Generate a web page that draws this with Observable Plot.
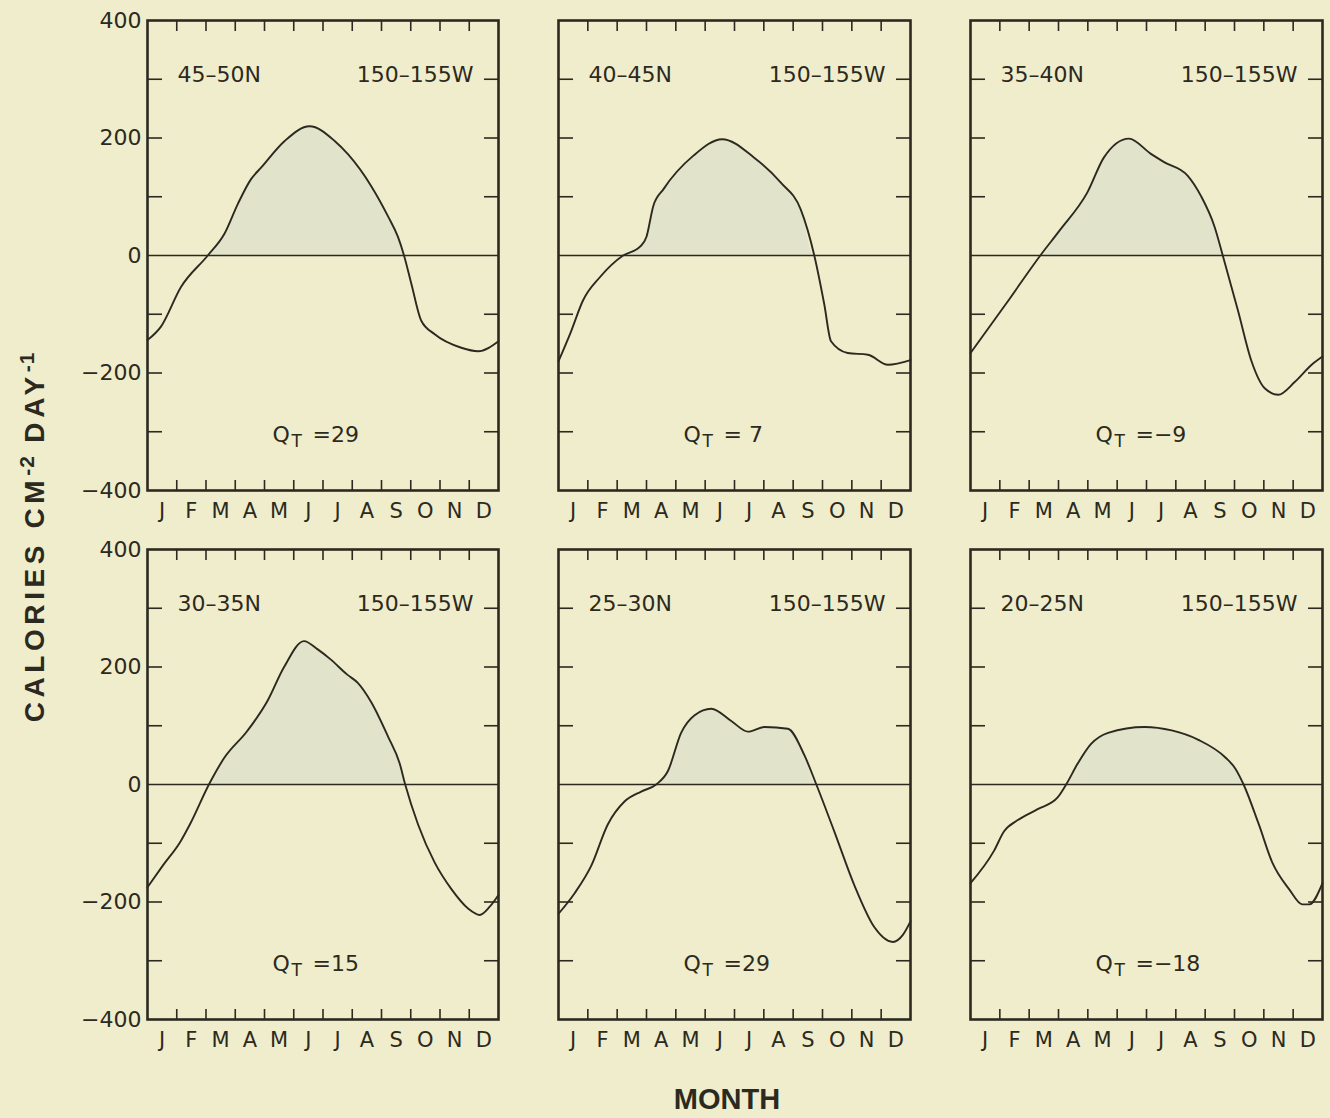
<!DOCTYPE html>
<html><head><meta charset="utf-8">
<script src="https://cdn.jsdelivr.net/npm/d3@7"></script>
<script src="https://cdn.jsdelivr.net/npm/@observablehq/plot@0.6"></script>
<style>
html,body{margin:0;padding:0;background:#f0edcc;}
#wrap{position:relative;width:1330px;height:1118px;background:#f0edcc;overflow:hidden;color:#2c2a20;}
.panel{position:absolute;}
.panel svg{max-width:none;overflow:visible;display:block;}
#ytitle{position:absolute;left:32px;top:537px;transform:translate(-50%,-50%) rotate(-90deg);white-space:nowrap;font-family:"Liberation Sans",sans-serif;font-weight:bold;font-size:28px;letter-spacing:4.6px;line-height:1;}
#ytitle sup{font-size:21px;vertical-align:10px;letter-spacing:1px;}
#xtitle{position:absolute;left:727px;top:1085px;transform:translateX(-50%);white-space:nowrap;font-family:"Liberation Sans",sans-serif;font-weight:bold;font-size:29px;line-height:29px;}
</style></head>
<body><div id="wrap"><div id="ytitle">CALORIES CM<sup>-2</sup> DAY<sup>-1</sup></div><div id="xtitle">MONTH</div></div>
<script>
// ---------- data ----------
const months = ["J","F","M","A","M","J","J","A","S","O","N","D"];
const latLabels = ["45–50N","40–45N","35–40N","30–35N","25–30N","20–25N"];
const lonLabel = "150–155W";
const qtValues = [29, 7, -9, 15, 29, -18];
const yLabelTicks = [-400, -200, 0, 200, 400];
const yMinorTicks = [-300, -200, -100, 100, 200, 300];
const xMonthTicks = [1,2,3,4,5,6,7,8,9,10,11];

// month position (0 = 1 Jan, 12 = 31 Dec) and net heat gain (cal cm^-2 day^-1)
const p1Month = [0, 0.46, 1.14, 2.06, 2.63, 3.09, 3.54, 3.89, 4.69, 5.54, 6.4, 6.86, 7.65, 8.22, 8.56, 8.77, 9.02, 9.36, 9.82, 10.73, 11.3, 12];
const p1Value = [-144, -121, -54, 0, 37, 88, 130, 150, 195, 220, 195, 172, 118, 67, 32, 0, -48, -111, -134, -157, -163, -146];

const p2Month = [0, 0.43, 0.83, 1.41, 2.2, 2.78, 3.0, 3.23, 3.58, 4.6, 5.58, 6.66, 7.58, 8.26, 8.72, 9.06, 9.29, 9.86, 10.55, 11.23, 12];
const p2Value = [-180, -129, -77, -37, 0, 15, 32, 84, 113, 170, 198, 167, 124, 78, 0, -83, -146, -166, -169, -186, -178];

const p3Month = [0, 1.2, 2.38, 3.06, 3.98, 4.55, 5.4, 6.15, 6.6, 7.4, 7.86, 8.32, 8.6, 9.12, 9.58, 10.03, 10.49, 11.06, 11.63, 12];
const p3Value = [-166, -83, 0, 44, 107, 167, 199, 173, 159, 136, 101, 49, 0, -94, -180, -226, -237, -215, -186, -172];

const p4Month = [0, 0.51, 1.14, 1.47, 2.1, 2.62, 3.41, 4.1, 4.66, 5.35, 5.82, 6.26, 6.83, 7.19, 7.65, 8.22, 8.62, 8.81, 9.25, 9.82, 10.39, 10.96, 11.36, 11.7, 12];
const p4Value = [-175, -139, -96, -66, 0, 45, 91, 142, 199, 244, 230, 213, 187, 173, 140, 82, 36, 0, -68, -133, -178, -211, -222, -208, -188];

const p5Month = [0, 0.55, 1.11, 1.68, 2.25, 2.82, 3.33, 3.73, 4.18, 4.64, 5.21, 5.89, 6.46, 7.02, 7.82, 8.39, 8.79, 9.41, 10.09, 10.77, 11.4, 11.74, 12];
const p5Value = [-220, -185, -139, -68, -29, -12, 0, 23, 88, 118, 129, 108, 90, 98, 95, 49, 0, -81, -172, -243, -268, -256, -233];

const p6Month = [0, 0.8, 1.14, 1.6, 2.29, 2.97, 3.26, 3.66, 4.11, 4.69, 5.94, 6.86, 7.77, 8.69, 9.03, 9.31, 9.83, 10.29, 10.86, 11.31, 11.55, 12];
const p6Value = [-168, -113, -80, -61, -42, -22, 0, 36, 69, 88, 98, 92, 76, 46, 27, 0, -68, -133, -178, -204, -204, -168];

// ---------- layout ----------
const ink = "#2c2a20";
const fillColor = "#e2e3cb";
const colLeft = [147, 558, 970];
const colRight = [498, 910, 1322];
const rowTop = [20, 549];
const rowBottom = [490, 1019];
const svgTop = [0, 530];

const series = [
  [p1Month, p1Value], [p2Month, p2Value], [p3Month, p3Value],
  [p4Month, p4Value], [p5Month, p5Value], [p6Month, p6Value]
];

const wrap = document.getElementById("wrap");
const qtFormat = v => v < 0 ? "=−" + Math.abs(v) : (v < 10 ? "= " + v : "=" + v);

series.forEach(([ms, vs], i) => {
  const r = Math.floor(i / 3), c = i % 3;
  const data = ms.map((m, j) => ({m, v: vs[j]}));
  const ml = c === 0 ? 147 : 40;
  const mr = 8;
  const mt = rowTop[r] - svgTop[r];
  const mb = 45;
  const fw = colRight[c] - colLeft[c];
  const fh = rowBottom[r] - rowTop[r];
  const labelDy = 61;
  const qtDy = -49;
  const marks = [
    Plot.areaY(data, {x: "m", y1: 0, y2: d => Math.max(0, d.v), fill: fillColor, curve: "monotone-x"}),
    Plot.ruleY([0], {stroke: ink, strokeWidth: 1.6}),
    Plot.lineY(data, {x: "m", y: "v", stroke: ink, strokeWidth: 1.9, curve: "monotone-x"}),
    // inward ticks
    Plot.axisY(yMinorTicks, {anchor: "left", tickSize: 15, dx: 15, fill: "none", stroke: ink, strokeWidth: 1.6, label: null}),
    Plot.axisY(yMinorTicks, {anchor: "right", tickSize: 15, dx: -15, fill: "none", stroke: ink, strokeWidth: 1.6, label: null}),
    Plot.axisX(xMonthTicks, {anchor: "top", tickSize: 10, dy: 10, fill: "none", stroke: ink, strokeWidth: 1.6, label: null}),
    Plot.axisX(xMonthTicks, {anchor: "bottom", tickSize: 10, dy: -10, fill: "none", stroke: ink, strokeWidth: 1.6, label: null}),
    // month letters
    Plot.axisX(months.map((_, k) => k + 0.5), {anchor: "bottom", tickSize: 0, tickPadding: 13, tickFormat: d => months[Math.floor(d)], fontSize: 21, fill: ink, label: null}),
    // panel labels
    Plot.text([latLabels[i]], {frameAnchor: "top-left", dx: 30, dy: labelDy, textAnchor: "start", lineAnchor: "bottom", fontSize: 22, fill: ink, letterSpacing: 2.8}),
    Plot.text([lonLabel], {frameAnchor: "top-right", dx: -25, dy: labelDy, textAnchor: "end", lineAnchor: "bottom", fontSize: 22, fill: ink, letterSpacing: 0.5}),
    // Q_T labels
    Plot.text(["Q"], {frameAnchor: "bottom-left", dx: 125, dy: qtDy, textAnchor: "start", lineAnchor: "bottom", fontSize: 22, fill: ink}),
    Plot.text(["T"], {frameAnchor: "bottom-left", dx: 144, dy: qtDy + 5, textAnchor: "start", lineAnchor: "bottom", fontSize: 17, fill: ink}),
    Plot.text([qtFormat(qtValues[i])], {frameAnchor: "bottom-left", dx: 165, dy: qtDy, textAnchor: "start", lineAnchor: "bottom", fontSize: 22, fill: ink}),
    Plot.frame({stroke: ink, strokeWidth: 2.6})
  ];
  if (c === 0) {
    marks.push(Plot.axisY(yLabelTicks, {anchor: "left", tickSize: 0, tickPadding: 6, fontSize: 22, fill: ink, label: null}));
  }
  const svg = Plot.plot({
    width: ml + fw + mr,
    height: mt + fh + mb,
    marginLeft: ml, marginRight: mr, marginTop: mt, marginBottom: mb,
    style: {background: "transparent", fontFamily: "DejaVu Sans", fontSize: "21px", color: ink, overflow: "visible"},
    x: {domain: [0, 12], axis: null, label: null},
    y: {domain: [-400, 400], axis: null, label: null},
    marks
  });
  const div = document.createElement("div");
  div.className = "panel";
  div.style.left = (colLeft[c] - ml) + "px";
  div.style.top = svgTop[r] + "px";
  div.appendChild(svg);
  wrap.appendChild(div);
});
</script>
</body></html>
